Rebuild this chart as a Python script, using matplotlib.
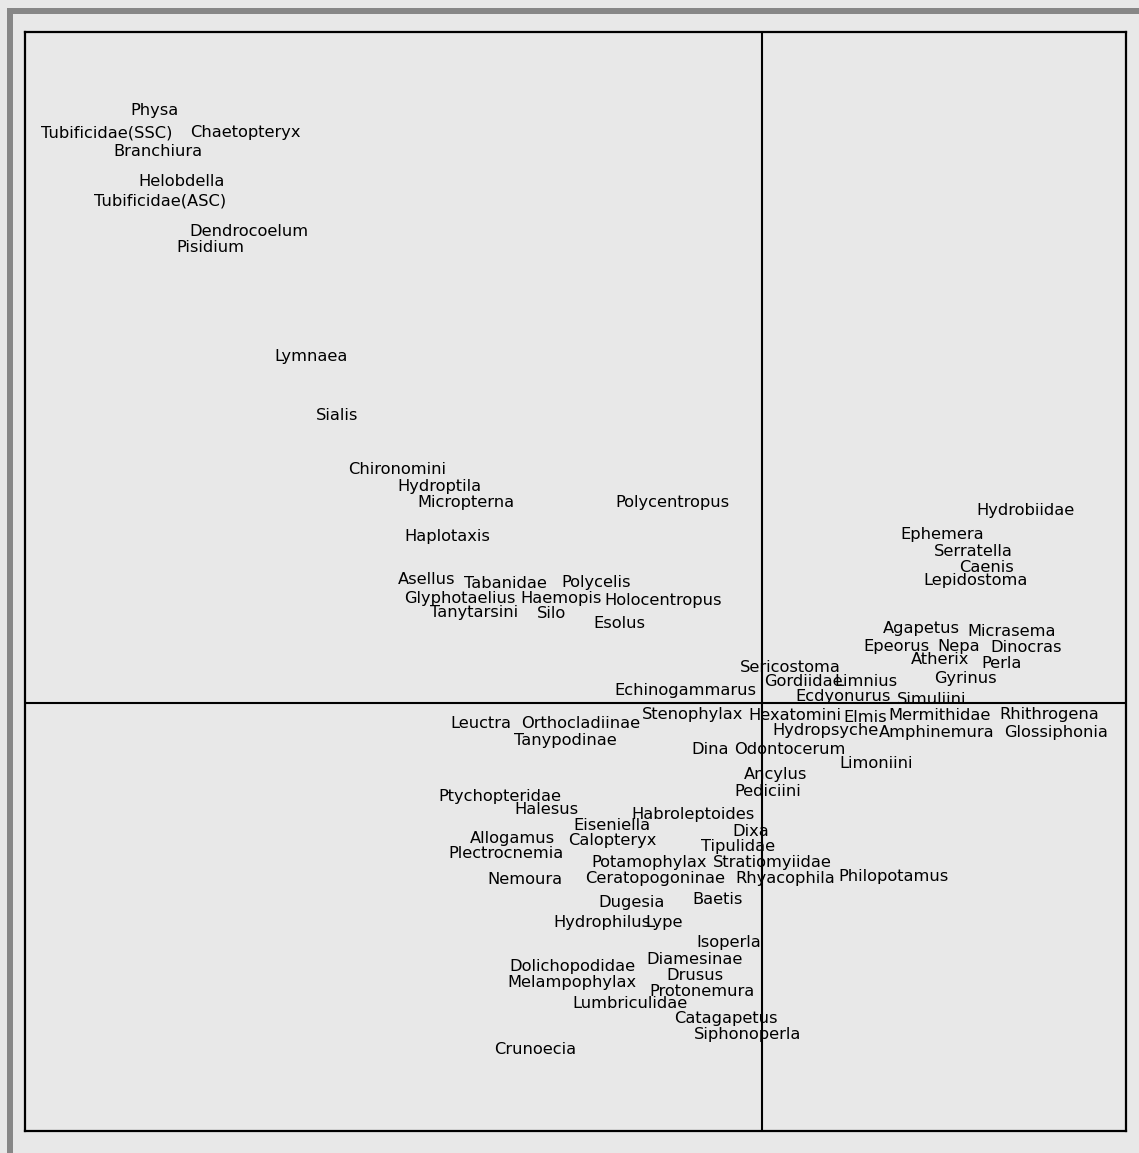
import matplotlib
matplotlib.use("Agg")
import matplotlib.pyplot as plt
from matplotlib.patches import Rectangle

# Taxa scores on the first two axes of the ordination
taxa = [
    "Physa", "Tubificidae(SSC)", "Chaetopteryx", "Branchiura", "Helobdella",
    "Tubificidae(ASC)", "Dendrocoelum", "Pisidium", "Lymnaea", "Sialis",
    "Chironomini", "Hydroptila", "Micropterna", "Polycentropus", "Haplotaxis",
    "Asellus", "Tabanidae", "Polycelis", "Glyphotaelius", "Haemopis",
    "Holocentropus", "Tanytarsini", "Silo", "Esolus", "Echinogammarus",
    "Hydrobiidae", "Ephemera", "Serratella", "Caenis", "Lepidostoma",
    "Agapetus", "Micrasema", "Epeorus", "Nepa", "Dinocras",
    "Atherix", "Perla", "Sericostoma", "Gordiidae", "Limnius",
    "Gyrinus", "Ecdyonurus", "Simuliini",
    "Stenophylax", "Hexatomini", "Elmis", "Mermithidae", "Rhithrogena",
    "Leuctra", "Orthocladiinae", "Hydropsyche", "Amphinemura", "Glossiphonia",
    "Tanypodinae", "Dina", "Odontocerum", "Limoniini", "Ancylus",
    "Pediciini", "Ptychopteridae", "Halesus", "Habroleptoides", "Eiseniella",
    "Dixa", "Allogamus", "Calopteryx", "Tipulidae", "Plectrocnemia",
    "Potamophylax", "Stratiomyiidae", "Nemoura", "Ceratopogoninae", "Rhyacophila",
    "Philopotamus", "Dugesia", "Baetis", "Hydrophilus", "Lype",
    "Isoperla", "Diamesinae", "Dolichopodidae", "Drusus", "Melampophylax",
    "Protonemura", "Lumbriculidae", "Catagapetus", "Siphonoperla", "Crunoecia",
]

axis1 = [
    -6.08, -6.55, -5.17, -6.04, -5.80,
    -6.02, -5.13, -5.52, -4.51, -4.25,
    -3.65, -3.23, -2.96, -0.90, -3.15,
    -3.35, -2.57, -1.66, -3.02, -2.01,
    -0.99, -2.88, -2.11, -1.43, -0.77,
    2.63, 1.80, 2.11, 2.24, 2.14,
    1.59, 2.50, 1.34, 1.97, 2.64,
    1.78, 2.40, 0.28, 0.41, 1.04,
    2.03, 0.81, 1.70,
    -0.69, 0.33, 1.03, 1.78, 2.87,
    -2.81, -1.81, 0.64, 1.75, 2.94,
    -1.97, -0.52, 0.28, 1.14, 0.14,
    0.06, -2.62, -2.16, -0.69, -1.50,
    -0.11, -2.50, -1.50, -0.24, -2.56,
    -1.13, 0.10, -2.37, -1.07, 0.23,
    1.31, -1.30, -0.44, -1.60, -0.98,
    -0.33, -0.67, -1.90, -0.67, -1.90,
    -0.60, -1.32, -0.36, -0.14, -2.27,
]

axis2 = [
    5.92, 5.70, 5.70, 5.52, 5.22,
    5.02, 4.72, 4.56, 3.46, 2.88,
    2.34, 2.16, 2.00, 2.00, 1.66,
    1.24, 1.20, 1.20, 1.04, 1.04,
    1.02, 0.90, 0.90, 0.80, 0.12,
    1.92, 1.68, 1.52, 1.36, 1.22,
    0.74, 0.72, 0.56, 0.56, 0.56,
    0.44, 0.40, 0.36, 0.22, 0.22,
    0.24, 0.06, 0.04,
    -0.12, -0.12, -0.14, -0.12, -0.12,
    -0.20, -0.20, -0.28, -0.30, -0.30,
    -0.38, -0.46, -0.46, -0.60, -0.72,
    -0.88, -0.94, -1.06, -1.12, -1.22,
    -1.28, -1.36, -1.38, -1.44, -1.50,
    -1.60, -1.60, -1.76, -1.76, -1.76,
    -1.74, -2.00, -1.96, -2.20, -2.20,
    -2.40, -2.56, -2.64, -2.72, -2.80,
    -2.88, -3.00, -3.16, -3.32, -3.46,
]

x_limits = (-7.37, 3.64)
y_limits = (-4.28, 6.71)

BG = "#e8e8e8"
W, H = 1139, 1153

fig = plt.figure(figsize=(W / 100, H / 100), dpi=100, facecolor=BG)

# grey frame along the top and left edges of the page
fig.add_artist(Rectangle((7 / W, 0), 5.5 / W, (H - 8) / H,
                         transform=fig.transFigure, facecolor="#878787",
                         edgecolor="none"))
fig.add_artist(Rectangle((7 / W, (H - 13.5) / H), (W - 7) / W, 5.5 / H,
                         transform=fig.transFigure, facecolor="#878787",
                         edgecolor="none"))

ax = fig.add_axes([25 / W, (H - 1131) / H, (1126 - 25) / W, (1131 - 32) / H])
ax.set_facecolor(BG)
ax.set_xlim(*x_limits)
ax.set_ylim(*y_limits)
ax.set_xticks([])
ax.set_yticks([])
for sp in ax.spines.values():
    sp.set_linewidth(1.6)
    sp.set_color("black")

ax.axhline(0, color="black", lw=1.5, zorder=1)
ax.axvline(0, color="black", lw=1.5, zorder=1)

for name, x, y in zip(taxa, axis1, axis2):
    ax.text(x, y, name, ha="center", va="center", fontsize=11.7,
            family="DejaVu Sans", color="black", zorder=3)

fig.savefig("out.png", dpi=100, facecolor=BG)
